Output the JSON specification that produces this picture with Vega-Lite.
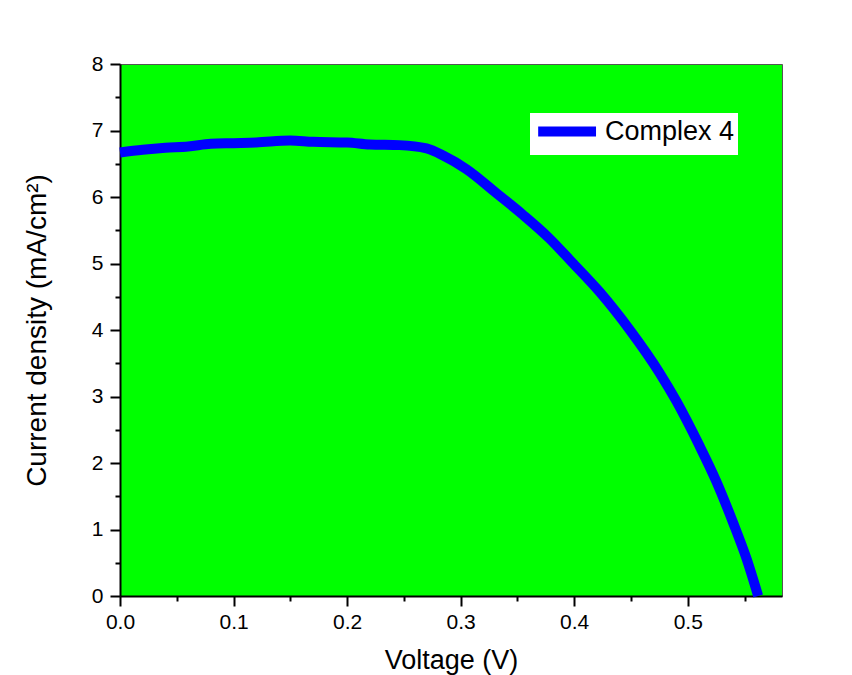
{
  "$schema": "https://vega.github.io/schema/vega-lite/v6.json",
  "width": 662,
  "height": 532,
  "autosize": {"type": "none"},
  "padding": {"left": 120, "top": 64, "right": 70, "bottom": 79},
  "background": "white",
  "config": {
    "font": "Liberation Sans",
    "view": {"fill": "#00ff00", "stroke": "#555555", "strokeWidth": 1},
    "axis": {
      "grid": false,
      "domainColor": "black",
      "domainWidth": 2,
      "tickColor": "black",
      "tickWidth": 2,
      "labelFlush": false,
      "labelFont": "Liberation Sans",
      "labelFontSize": 21,
      "labelColor": "black",
      "titleFont": "Liberation Sans",
      "titleFontWeight": "normal",
      "titleColor": "black"
    }
  },
  "data": {
    "values": [
      {"V": 0.000, "J": 6.67, "series": "Complex 4"},
      {"V": 0.020, "J": 6.71, "series": "Complex 4"},
      {"V": 0.040, "J": 6.74, "series": "Complex 4"},
      {"V": 0.060, "J": 6.76, "series": "Complex 4"},
      {"V": 0.080, "J": 6.80, "series": "Complex 4"},
      {"V": 0.100, "J": 6.81, "series": "Complex 4"},
      {"V": 0.120, "J": 6.82, "series": "Complex 4"},
      {"V": 0.150, "J": 6.85, "series": "Complex 4"},
      {"V": 0.170, "J": 6.83, "series": "Complex 4"},
      {"V": 0.200, "J": 6.82, "series": "Complex 4"},
      {"V": 0.220, "J": 6.79, "series": "Complex 4"},
      {"V": 0.246, "J": 6.78, "series": "Complex 4"},
      {"V": 0.270, "J": 6.73, "series": "Complex 4"},
      {"V": 0.285, "J": 6.62, "series": "Complex 4"},
      {"V": 0.305, "J": 6.42, "series": "Complex 4"},
      {"V": 0.332, "J": 6.05, "series": "Complex 4"},
      {"V": 0.355, "J": 5.73, "series": "Complex 4"},
      {"V": 0.378, "J": 5.38, "series": "Complex 4"},
      {"V": 0.398, "J": 5.02, "series": "Complex 4"},
      {"V": 0.4225, "J": 4.57, "series": "Complex 4"},
      {"V": 0.449, "J": 4.00, "series": "Complex 4"},
      {"V": 0.475, "J": 3.36, "series": "Complex 4"},
      {"V": 0.490, "J": 2.93, "series": "Complex 4"},
      {"V": 0.510, "J": 2.27, "series": "Complex 4"},
      {"V": 0.525, "J": 1.73, "series": "Complex 4"},
      {"V": 0.540, "J": 1.10, "series": "Complex 4"},
      {"V": 0.552, "J": 0.55, "series": "Complex 4"},
      {"V": 0.562, "J": 0.00, "series": "Complex 4"}
    ]
  },
  "layer": [
    {
      "mark": {"type": "line", "opacity": 0},
      "encoding": {
        "x": {
          "field": "V", "type": "quantitative",
          "scale": {"domain": [0, 0.583], "nice": false, "zero": false},
          "axis": {"orient": "bottom", "values": [0.05, 0.15, 0.25, 0.35, 0.45, 0.55], "tickSize": 5, "labels": false, "domain": false, "title": null}
        },
        "y": {
          "field": "J", "type": "quantitative",
          "scale": {"domain": [0, 8], "nice": false},
          "axis": {"orient": "left", "values": [0.5, 1.5, 2.5, 3.5, 4.5, 5.5, 6.5, 7.5], "tickSize": 5, "labels": false, "domain": false, "title": null}
        }
      }
    },
    {
      "mark": {"type": "line", "strokeWidth": 10, "strokeCap": "butt", "strokeJoin": "round", "interpolate": "monotone"},
      "encoding": {
        "x": {
          "field": "V", "type": "quantitative",
          "axis": {"orient": "bottom", "values": [0, 0.1, 0.2, 0.3, 0.4, 0.5], "format": ".1f", "tickSize": 10, "labelPadding": 5, "title": "Voltage (V)", "titleFontSize": 27, "titlePadding": 15}
        },
        "y": {
          "field": "J", "type": "quantitative",
          "axis": {"orient": "left", "values": [0, 1, 2, 3, 4, 5, 6, 7, 8], "tickSize": 10, "labelPadding": 7, "title": "Current density (mA/cm²)", "titleFontSize": 28, "titlePadding": 40}
        },
        "color": {
          "field": "series", "type": "nominal",
          "scale": {"range": ["#0000ff"]},
          "legend": {
            "orient": "none", "legendX": 410, "legendY": 49,
            "title": null, "fillColor": "white", "padding": 3,
            "symbolType": "M-1,0H4.6", "symbolSize": 427, "symbolStrokeWidth": 10,
            "labelFont": "Liberation Sans", "labelFontSize": 27, "labelColor": "black", "labelOffset": 41
          }
        }
      }
    }
  ],
  "resolve": {"axis": {"x": "independent", "y": "independent"}}
}
